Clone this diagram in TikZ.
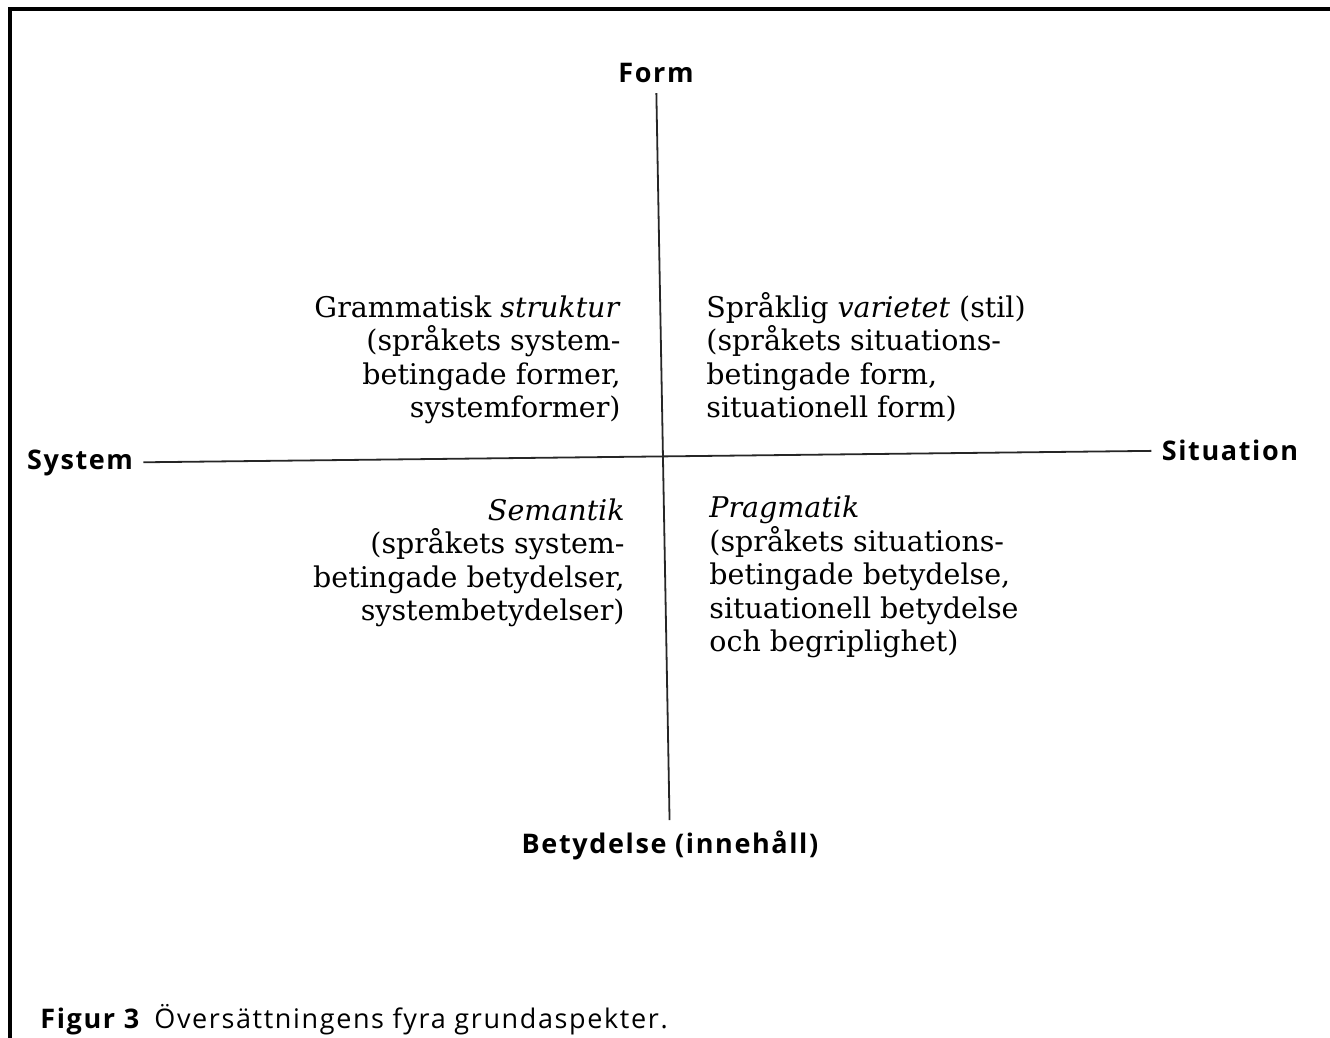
\documentclass[tikz,border=0pt]{standalone}
\usepackage{fontspec}
\setmainfont{DejaVu Serif}
\setsansfont{Open Sans}
\newfontfamily\labelfont[LetterSpace=6]{Open Sans}
\begin{document}
\begin{tikzpicture}[x=0.5pt, y=-0.5pt,
  axislabel/.style = {font=\labelfont\bfseries\fontsize{13.5}{16}\selectfont, inner sep=5pt},
  quad/.style = {font=\fontsize{14.25}{16.75}\selectfont, inner sep=0pt},
  axis/.style = {line width=0.9pt, black!85}]
\useasboundingbox (0,0) rectangle (1330,1038);
% frame, only top and left edge
\draw[line width=2.2pt] (10,1038) -- (10,9) -- (1330,9);
% axis labels
\node[axislabel] (form) at (656,73) {Form};
\node[axislabel] (betydelse) at (670,845) {Betydelse (innehåll)};
\node[axislabel] (system) at (80,463) {System};
\node[axislabel] (situation) at (1230,450) {Situation};
% quadrants
\node[quad, align=right, anchor=east] (grammatik) at (621,360)
  {Grammatisk \textit{struktur}\\(språkets system-\\betingade former,\\systemformer)};
\node[quad, align=left, anchor=west] (varietet) at (706,357)
  {Språklig \textit{varietet} (stil)\\(språkets situations-\\betingade form,\\situationell form)};
\node[quad, align=right, anchor=east] (semantik) at (625,563)
  {\textit{Semantik}\\(språkets system-\\betingade betydelser,\\systembetydelser)};
\node[quad, align=left, anchor=west] (pragmatik) at (709,577)
  {\textit{Pragmatik}\\(språkets situations-\\betingade betydelse,\\situationell betydelse\\och begriplighet)};
% axes
\draw[axis] (form) -- (betydelse);
\draw[axis] (system) -- (situation);
% caption
\node[anchor=west, inner sep=0pt, font=\labelfont\fontsize{13.5}{16}\selectfont] (caption) at (40,1020)
  {\textbf{Figur 3}\enspace Översättningens fyra grundaspekter.};
\end{tikzpicture}
\end{document}
